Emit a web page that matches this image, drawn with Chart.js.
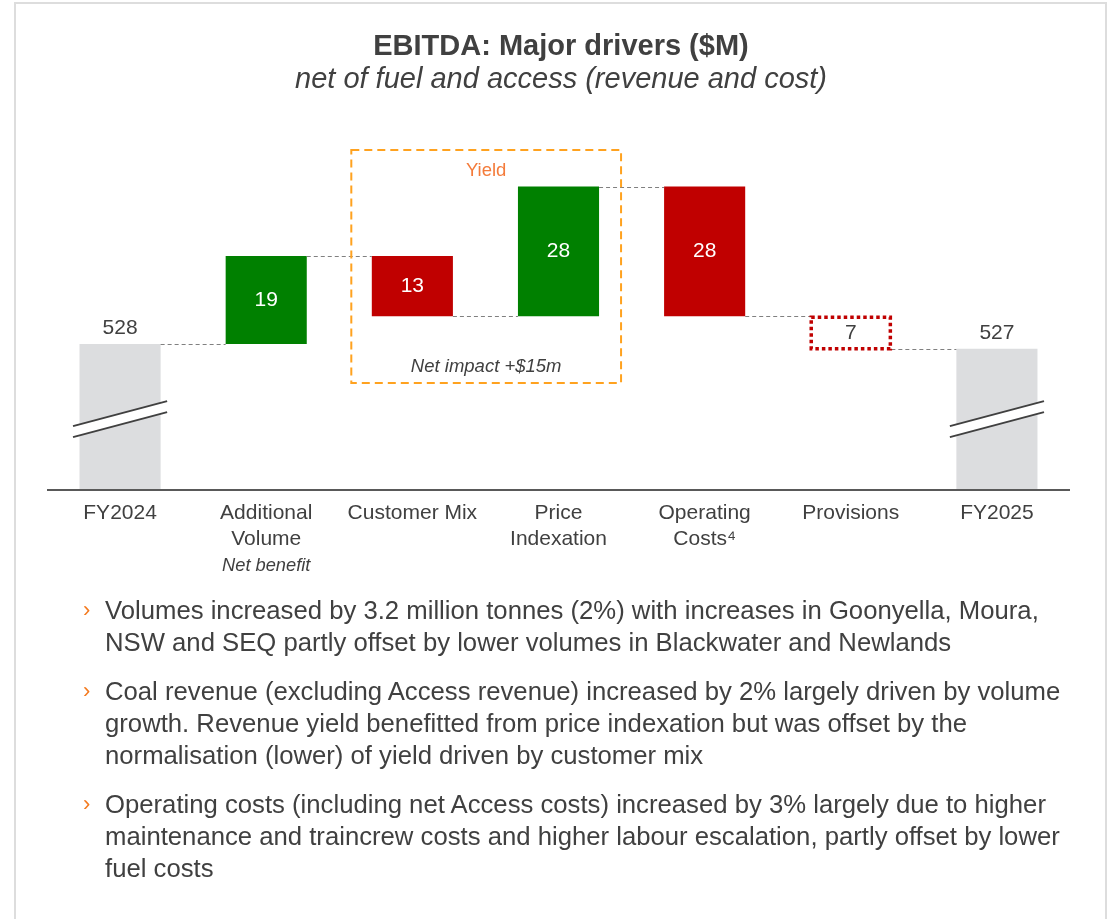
<!DOCTYPE html>
<html><head><meta charset="utf-8">
<script src="https://cdn.jsdelivr.net/npm/chart.js@4.4.1/dist/chart.umd.min.js"></script>
<style>
html,body{margin:0;padding:0;background:#fff;}
body{width:1114px;height:919px;position:relative;overflow:hidden;font-family:"Liberation Sans",Arial,sans-serif;}
#frame{position:absolute;left:14px;top:2px;width:1089px;height:1000px;border:2px solid #dddddd;}
#c{position:absolute;left:0;top:0;}
#bullets{position:absolute;left:0;top:594px;width:1114px;color:#404040;font-size:25.7px;line-height:32px;}
.para{position:relative;margin:0 0 17px 0;}
.chev{position:absolute;left:83px;top:0;color:#F47B20;font-size:22px;}
.ln{padding-left:105px;white-space:nowrap;}
</style></head>
<body>
<div id="frame"></div>
<canvas id="c" width="1114" height="600"></canvas>
<div id="bullets"></div>
<script>
// ---- data ----
const categories = [['FY2024'], ['Additional', 'Volume'], ['Customer Mix'], ['Price', 'Indexation'], ['Operating', 'Costs\u2074'], ['Provisions'], ['FY2025']];
const startValue = 528;
const deltas = [19, -13, 28, -28, -7];
const endValue = 527;
const valueLabels = ['528', '19', '13', '28', '28', '7', '527'];
const barKinds = ['total', 'increase', 'decrease', 'increase', 'decrease', 'provision', 'total'];
const yAxisMin = 496.5;
const yAxisMax = 580.7;
const titleText = 'EBITDA: Major drivers ($M)';
const subtitleText = 'net of fuel and access (revenue and cost)';
const yieldLabel = 'Yield';
const yieldNote = 'Net impact +$15m';
const volumeNote = 'Net benefit';
const bullets = [
  ['Volumes increased by 3.2 million tonnes (2%) with increases in Goonyella, Moura,',
   'NSW and SEQ partly offset by lower volumes in Blackwater and Newlands'],
  ['Coal revenue (excluding Access revenue) increased by 2% largely driven by volume',
   'growth. Revenue yield benefitted from price indexation but was offset by the',
   'normalisation (lower) of yield driven by customer mix'],
  ['Operating costs (including net Access costs) increased by 3% largely due to higher',
   'maintenance and traincrew costs and higher labour escalation, partly offset by lower',
   'fuel costs']
];

// ---- build floating ranges ----
const ranges = [];
const levels = [startValue];
ranges.push([yAxisMin, startValue]);
let run = startValue;
deltas.forEach(d => {
  const next = run + d;
  ranges.push([Math.min(run, next), Math.max(run, next)]);
  run = next;
  levels.push(run);
});
ranges.push([yAxisMin, endValue]);

const kindColor = {total: '#DCDDDF', increase: '#008000', decrease: '#C00000', provision: 'rgba(0,0,0,0)'};
const colors = barKinds.map(k => kindColor[k]);

const TXT = '#404040';
const FONT = '"Liberation Sans", Arial, sans-serif';

const overlay = {
  id: 'overlay',
  afterDatasetsDraw(chart) {
    const ctx = chart.ctx;
    const xs = chart.scales.x, ys = chart.scales.y;
    const bars = chart.getDatasetMeta(0).data;
    const ca = chart.chartArea;
    ctx.save();

    // connectors
    ctx.strokeStyle = '#808080';
    ctx.lineWidth = 1.2;
    ctx.setLineDash([4, 3]);
    for (let i = 0; i < levels.length; i++) {
      const a = bars[i], b = bars[i + 1];
      const y = Math.round(ys.getPixelForValue(levels[i])) + 0.5;
      ctx.beginPath();
      ctx.moveTo(a.x + a.width / 2, y);
      ctx.lineTo(b.x - b.width / 2, y);
      ctx.stroke();
    }

    // provisions dotted outline
    barKinds.forEach((k, i) => {
      if (k !== 'provision') return;
      const b = bars[i];
      const top = Math.min(b.y, b.base), bot = Math.max(b.y, b.base);
      ctx.strokeStyle = '#C00000';
      ctx.lineWidth = 3.5;
      ctx.setLineDash([3.5, 3]);
      ctx.strokeRect(b.x - b.width / 2 + 1, top + 1, b.width - 2, bot - top - 1);
    });
    ctx.setLineDash([]);

    // break marks on total bars
    barKinds.forEach((k, i) => {
      if (k !== 'total') return;
      const b = bars[i];
      const yc = ys.getPixelForValue(511.8);
      const hw = b.width / 2 + 6.5, dy = 12.5, gap = 11;
      ctx.fillStyle = '#ffffff';
      ctx.beginPath();
      ctx.moveTo(b.x - hw, yc + dy - gap / 2);
      ctx.lineTo(b.x + hw, yc - dy - gap / 2);
      ctx.lineTo(b.x + hw, yc - dy + gap / 2);
      ctx.lineTo(b.x - hw, yc + dy + gap / 2);
      ctx.closePath();
      ctx.fill();
      ctx.strokeStyle = '#404040';
      ctx.lineWidth = 2;
      [-gap / 2, gap / 2].forEach(o => {
        ctx.beginPath();
        ctx.moveTo(b.x - hw, yc + dy + o);
        ctx.lineTo(b.x + hw, yc - dy + o);
        ctx.stroke();
      });
    });

    // value labels
    ctx.textAlign = 'center';
    ctx.textBaseline = 'middle';
    ctx.font = '21px ' + FONT;
    barKinds.forEach((k, i) => {
      const b = bars[i];
      const top = Math.min(b.y, b.base), bot = Math.max(b.y, b.base);
      if (k === 'total') {
        ctx.fillStyle = TXT;
        ctx.fillText(valueLabels[i], b.x, top - 16);
      } else if (k === 'provision') {
        ctx.fillStyle = TXT;
        ctx.fillText(valueLabels[i], b.x, (top + bot) / 2 + 1);
      } else {
        ctx.fillStyle = '#ffffff';
        ctx.fillText(valueLabels[i], b.x, (top + bot) / 2);
      }
    });

    // yield box
    const b2 = bars[2], b3 = bars[3];
    const bx0 = b2.x - b2.width / 2 - 20.5, bx1 = b3.x + b3.width / 2 + 22;
    const by0 = ys.getPixelForValue(569.9), by1 = ys.getPixelForValue(519.6);
    ctx.strokeStyle = '#FFA21F';
    ctx.lineWidth = 2;
    ctx.setLineDash([8, 5]);
    ctx.strokeRect(bx0, by0, bx1 - bx0, by1 - by0);
    ctx.setLineDash([]);
    const bcx = (bx0 + bx1) / 2;
    ctx.font = '18.5px ' + FONT;
    ctx.fillStyle = '#F47B3A';
    ctx.fillText(yieldLabel, bcx, by0 + 21);
    ctx.font = 'italic 18.5px ' + FONT;
    ctx.fillStyle = TXT;
    ctx.fillText(yieldNote, bcx, by1 - 16);

    // axis line
    ctx.strokeStyle = '#595959';
    ctx.lineWidth = 2;
    ctx.beginPath();
    ctx.moveTo(ca.left, ca.bottom);
    ctx.lineTo(ca.right, ca.bottom);
    ctx.stroke();

    // category labels
    ctx.fillStyle = TXT;
    ctx.font = '21px ' + FONT;
    categories.forEach((lines, i) => {
      const x = xs.getPixelForValue(i);
      lines.forEach((t, j) => ctx.fillText(t, x, ca.bottom + 23 + j * 26));
    });
    ctx.font = 'italic 18.3px ' + FONT;
    ctx.fillText(volumeNote, xs.getPixelForValue(1), ca.bottom + 76);

    // titles
    const cx = 561;
    ctx.textBaseline = 'alphabetic';
    ctx.font = 'bold 29px ' + FONT;
    ctx.fillStyle = TXT;
    ctx.fillText(titleText, cx, 55);
    ctx.font = 'italic 29px ' + FONT;
    ctx.fillText(subtitleText, cx, 88);

    ctx.restore();
  }
};

new Chart(document.getElementById('c'), {
  type: 'bar',
  data: {
    labels: categories.map(l => l.join(' ')),
    datasets: [{
      data: ranges,
      backgroundColor: colors,
      borderWidth: 0,
      barPercentage: 0.555,
      categoryPercentage: 1
    }]
  },
  options: {
    responsive: false,
    animation: false,
    layout: {padding: {left: 47, right: 44, top: 100, bottom: 110}},
    scales: {
      x: {display: false},
      y: {display: false, min: yAxisMin, max: yAxisMax}
    },
    plugins: {legend: {display: false}, tooltip: {enabled: false}}
  },
  plugins: [overlay]
});

// bullets
const host = document.getElementById('bullets');
bullets.forEach(p => {
  const d = document.createElement('div');
  d.className = 'para';
  const ch = document.createElement('span');
  ch.className = 'chev';
  ch.textContent = '\u203A';
  d.appendChild(ch);
  p.forEach(t => {
    const l = document.createElement('div');
    l.className = 'ln';
    l.textContent = t;
    d.appendChild(l);
  });
  host.appendChild(d);
});
</script>
</body></html>
